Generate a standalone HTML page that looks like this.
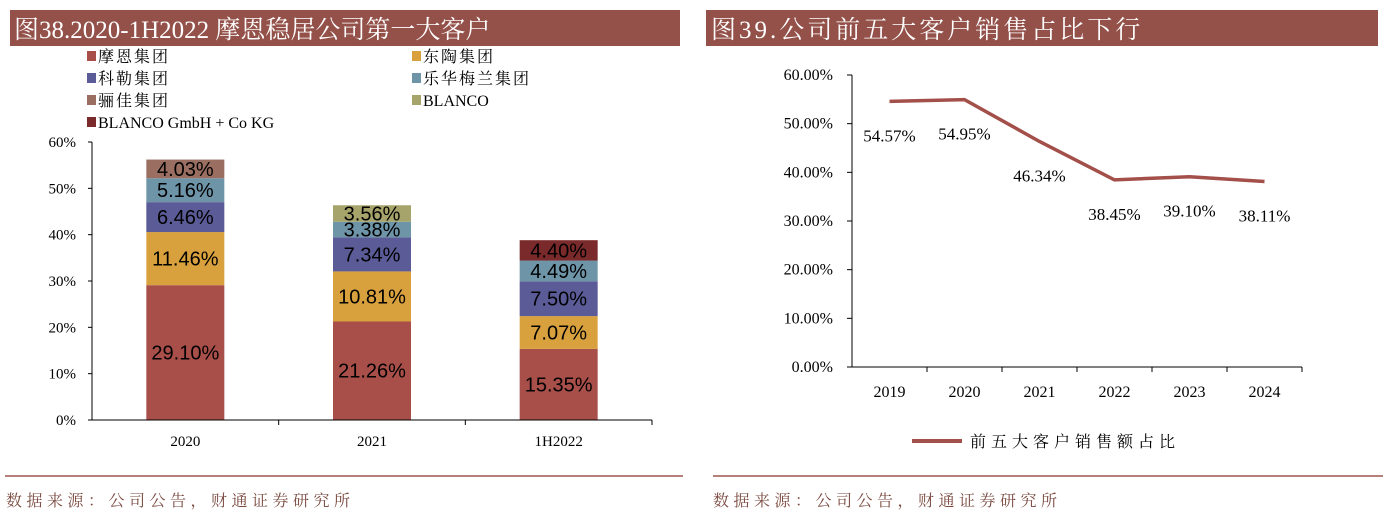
<!DOCTYPE html>
<html><head><meta charset="utf-8">
<style>
body{margin:0;background:#fff;width:1386px;height:518px;overflow:hidden;font-family:"Liberation Serif","Noto Serif CJK SC",serif;}
svg text{font-family:"Liberation Serif","Noto Serif CJK SC",serif;}
svg text.sans{font-family:"Liberation Sans",sans-serif;}
</style></head>
<body>
<svg width="1386" height="518" xmlns="http://www.w3.org/2000/svg">
<rect x="10" y="10" width="670" height="36" fill="#93514a"/>
<text x="14" y="38" font-size="25" fill="#fff">图38.2020-1H2022 摩恩稳居公司第一大客户</text>
<rect x="706" y="10" width="672" height="36" fill="#93514a"/>
<text x="711" y="38" font-size="25" fill="#fff" letter-spacing="3">图39.公司前五大客户销售占比下行</text>
<g id="left"></g>
<g id="right"></g>
<line x1="5" y1="476" x2="683" y2="476" stroke="#a0564e" stroke-width="1.5"/>
<line x1="713" y1="476" x2="1383" y2="476" stroke="#a0564e" stroke-width="1.5"/>
<text x="6" y="506" font-size="16" fill="#7a4a40" letter-spacing="4.5">数据来源：公司公告，财通证券研究所</text>
<text x="713" y="506" font-size="16" fill="#7a4a40" letter-spacing="4.5">数据来源：公司公告，财通证券研究所</text>
</svg>
<script>
const barCats=["2020","2021","1H2022"];
const seriesNames=["摩恩集团","东陶集团","科勒集团","乐华梅兰集团","骊佳集团","BLANCO","BLANCO GmbH + Co KG"];
const seriesColors=["#a84f49","#d9a13d","#5a5b97","#6e94a8","#9a6f61","#a6a46a","#7a2a2a"];
const moen=[29.10,21.26,15.35];
const toto=[11.46,10.81,7.07];
const kohler=[6.46,7.34,7.50];
const leroy=[5.16,3.38,4.49];
const lijia=[4.03,0,0];
const blanco=[0,3.56,0];
const blancoGmbh=[0,0,4.40];
const yTicksL=[0,10,20,30,40,50,60];

const lineCats=["2019","2020","2021","2022","2023","2024"];
const top5=[54.57,54.95,46.34,38.45,39.10,38.11];
const yTicksR=[0,10,20,30,40,50,60];

const NS="http://www.w3.org/2000/svg";
function el(p,t,a){const e=document.createElementNS(NS,t);for(const k in a)e.setAttribute(k,a[k]);p.appendChild(e);return e;}

// left chart
const L=document.getElementById('left');
const lx0=92,lx1=652,ly0=420,ly60=142;
const ly=v=>ly0-(v/60)*(ly0-ly60);
const bw=(lx1-lx0)/barCats.length;
const legPos=[[87,62],[412,62],[87,84],[412,84],[87,106],[412,106],[87,128]];
seriesNames.forEach((n,i)=>{
  const r=el(L,'rect',{x:legPos[i][0],y:legPos[i][1]-11,width:9,height:10,fill:seriesColors[i]});
  
  
  const t=el(L,'text',{x:legPos[i][0]+11,y:legPos[i][1],'font-size':16,fill:'#000','letter-spacing':/[A-Z]/.test(n)?0:2});t.textContent=n;
  
  
});
yTicksL.forEach(v=>{
  const t=el(L,'text',{x:76,y:ly(v)+5,'font-size':15,'text-anchor':'end'});t.textContent=v+'%';
  
  
  el(L,'line',{x1:lx0-4,x2:lx0,y1:ly(v),y2:ly(v),stroke:'#000'});
});
const allS=[moen,toto,kohler,leroy,lijia,blanco,blancoGmbh];
barCats.forEach((c,ci)=>{
  const cx=lx0+bw*(ci+0.5);let acc=0;
  allS.forEach((s,si)=>{
    const v=s[ci];if(!v)return;
    const y1=ly(acc+v),y2=ly(acc);
    const r=el(L,'rect',{x:cx-39,y:y1,width:78,height:y2-y1,fill:seriesColors[si]});
    
    
    const t=el(L,'text',{x:cx,y:(y1+y2)/2+7,'font-size':20,'text-anchor':'middle','class':'sans',fill:'#000'});
    t.textContent=v.toFixed(2)+'%';
    
    
    acc+=v;
  });
  const t=el(L,'text',{x:cx,y:446,'font-size':15,'text-anchor':'middle'});t.textContent=c;
  
  
  el(L,'line',{x1:lx0+bw*(ci+1),x2:lx0+bw*(ci+1),y1:ly0,y2:ly0+5,stroke:'#000'});
});
el(L,'line',{x1:lx0,x2:lx0,y1:ly60,y2:ly0,stroke:'#000'});
el(L,'line',{x1:lx0,x2:lx1,y1:ly0,y2:ly0,stroke:'#000'});

// right chart
const R=document.getElementById('right');
const rx0=852,rx1=1302,ry0=367,ry60=75;
const ry=v=>ry0-(v/60)*(ry0-ry60);
const st=(rx1-rx0)/lineCats.length;
const rx=i=>rx0+st*(i+0.5);
yTicksR.forEach(v=>{
  const t=el(R,'text',{x:833,y:ry(v)+5,'font-size':16,'text-anchor':'end'});t.textContent=v.toFixed(2)+'%';
  
  
  el(R,'line',{x1:rx0-5,x2:rx0,y1:ry(v),y2:ry(v),stroke:'#000'});
});
el(R,'line',{x1:rx0,x2:rx0,y1:ry60,y2:ry0,stroke:'#000'});
el(R,'line',{x1:rx0,x2:rx1,y1:ry0,y2:ry0,stroke:'#000'});
lineCats.forEach((c,i)=>{
  el(R,'line',{x1:rx0+st*(i+1),x2:rx0+st*(i+1),y1:ry0,y2:ry0+5,stroke:'#000'});
  const t=el(R,'text',{x:rx(i),y:397,'font-size':16,'text-anchor':'middle'});t.textContent=c;
  
  
});
const pl=el(R,'polyline',{points:top5.map((v,i)=>rx(i)+','+ry(v)).join(' '),fill:'none',stroke:'#a34f4a','stroke-width':3.5});


top5.forEach((v,i)=>{
  const t=el(R,'text',{x:rx(i),y:ry(v)+40,'font-size':17,'text-anchor':'middle'});t.textContent=v.toFixed(2)+'%';
  
  
});
const ll=el(R,'line',{x1:912,x2:962,y1:441,y2:441,stroke:'#a34f4a','stroke-width':4});


const lt=el(R,'text',{x:970,y:447,'font-size':16,'letter-spacing':5});lt.textContent='前五大客户销售额占比';


</script>
</body></html>
